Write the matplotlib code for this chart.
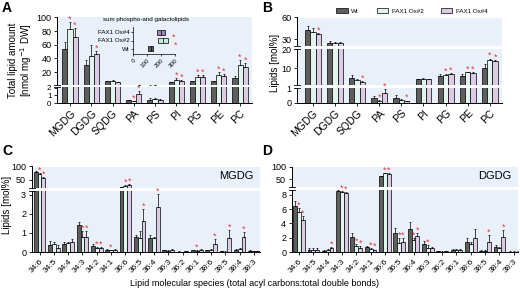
import matplotlib
matplotlib.use("Agg")
import matplotlib.pyplot as plt
from matplotlib.lines import Line2D
from matplotlib.patches import Patch
import numpy as np

plt.rcParams['font.family'] = ['Liberation Sans', 'DejaVu Sans']

# ---- data ----
genotypes = ['Wt', 'FAX1 Ox#2', 'FAX1 Ox#4']

classes = ['MGDG', 'DGDG', 'SQDG', 'PA', 'PS', 'PI', 'PG', 'PE', 'PC']
# panel A: nmol mg-1 DW
a_wt = [54, 30, 6.5, 0.4, 0.45, 5, 6.5, 6.5, 12]
a_wt_err = [10, 8, 1, 0.05, 0.15, 0.8, 1, 1, 2.5]
a_ox2 = [83, 43, 7, 0.2, 0.55, 9, 13, 16, 30]
a_ox2_err = [10, 17, 1, 0.05, 0.1, 3, 3, 4, 8]
a_ox4 = [72, 46, 5.5, 1.2, 0.4, 7, 13, 14, 27]
a_ox4_err = [13, 5, 0.8, 0.4, 0.1, 1.5, 3, 3, 6]
a_sig_ox2 = ['MGDG', 'PA', 'PI', 'PG', 'PE', 'PC']
a_sig_ox4 = ['MGDG', 'DGDG', 'PA', 'PI', 'PG', 'PE', 'PC']

# inset: sum phospho- and galactolipids
inset_min = [106, 175, 168]
inset_max = [141, 247, 228]
inset_med = [124, 212, 196]
inset_sig = [False, True, True]

# panel B: mol%
b_wt = [43, 25, 5, 0.35, 0.35, 4.2, 5.8, 5.8, 10]
b_wt_err = [5, 2.5, 1.5, 0.1, 0.15, 0.4, 1, 1, 2.5]
b_ox2 = [40, 24, 3.8, 0.1, 0.2, 4.5, 6.5, 8, 14.5]
b_ox2_err = [5, 1.5, 0.6, 0.05, 0.05, 0.3, 0.4, 0.3, 0.7]
b_ox4 = [37.5, 25, 2.8, 0.65, 0.12, 4.2, 7.3, 7.5, 14]
b_ox4_err = [1.5, 1, 0.3, 0.3, 0.02, 0.3, 0.4, 0.4, 0.4]
b_sig_ox2 = ['PA', 'PG', 'PE', 'PC']
b_sig_ox4 = ['MGDG', 'SQDG', 'PA', 'PS', 'PG', 'PE', 'PC']

species = ['34:6', '34:5', '34:4', '34:3', '34:2', '34:1', '36:6', '36:5',
           '36:4', '36:3', '36:2', '36:1', '38:6', '38:5', '38:4', '38:3']
# panel C: MGDG species
c_wt = [79, 0.35, 0.4, 1.4, 0.33, 0.12, 22, 0.8, 0.75, 0.08, 0.02, 0.08, 0.08, 0.03, 0.12, 0.06]
c_wt_err = [3, 0.25, 0.1, 0.2, 0.07, 0.05, 1, 0.1, 0.12, 0.03, 0.01, 0.04, 0.04, 0.02, 0.05, 0.03]
c_ox2 = [73, 0.4, 0.45, 0.78, 0.2, 0.08, 28, 0.72, 0.72, 0.06, 0.01, 0.05, 0.1, 0.02, 0.15, 0.03]
c_ox2_err = [2, 0.15, 0.05, 0.3, 0.08, 0.04, 1.5, 0.4, 0.05, 0.03, 0.01, 0.03, 0.05, 0.01, 0.05, 0.02]
c_ox4 = [59, 0.2, 0.52, 0.78, 0.22, 0.1, 33, 1.65, 2.35, 0.1, 0.05, 0.12, 0.4, 0.72, 0.8, 0.05]
c_ox4_err = [3, 0.15, 0.15, 0.3, 0.06, 0.04, 1.5, 0.6, 0.7, 0.04, 0.02, 0.05, 0.3, 0.42, 0.25, 0.02]
c_sig_ox2 = ['34:6', '34:3', '34:2', '34:1', '36:6', '36:1']
c_sig_ox4 = ['34:6', '34:3', '34:2', '36:6', '36:5', '36:4', '38:6', '38:5', '38:4']

# panel D: DGDG species
d_wt = [6.5, 0.3, 0.2, 8.6, 2.1, 0.65, 61, 2.7, 3.2, 1.1, 0.1, 0.3, 1.4, 0.2, 0.7, 0.05]
d_wt_err = [0.7, 0.2, 0.1, 0.15, 0.6, 0.2, 2, 0.7, 1.0, 0.4, 0.05, 0.1, 0.6, 0.1, 0.3, 0.03]
d_ox2 = [5.6, 0.35, 0.3, 8.45, 0.8, 0.4, 73, 1.2, 1.7, 0.5, 0.05, 0.35, 1.1, 0.15, 0.5, 0.05]
d_ox2_err = [0.6, 0.2, 0.1, 0.1, 0.3, 0.15, 1.5, 0.8, 0.3, 0.5, 0.03, 0.1, 0.3, 0.08, 0.2, 0.03]
d_ox4 = [4.5, 0.35, 0.5, 8.3, 0.6, 0.25, 72, 1.45, 2.2, 0.5, 0.15, 0.3, 1.9, 1.45, 2.1, 0.05]
d_ox4_err = [0.5, 0.2, 0.15, 0.1, 0.3, 0.1, 1.5, 0.5, 0.4, 0.2, 0.05, 0.1, 1.3, 0.9, 1.0, 0.03]
d_sig_ox2 = ['34:6', '34:3', '34:2', '34:1', '36:6', '36:5', '36:4', '36:3']
d_sig_ox4 = ['34:6', '34:4', '34:3', '34:2', '34:1', '36:6', '36:5', '36:4', '38:5', '38:4']

# ---- style ----
colors = ['#5e5e5e', '#e2f4ee', '#dccbe5']
inset_colors = ['#5e5e5e', '#c4ecdc', '#a27fbd']
bg = '#eaf0f9'
star_color = '#e5383b'

W, H = 520, 295
fig = plt.figure(figsize=(W / 100, H / 100), dpi=100)


def add_ax(x0, y0, x1, y1):
    return fig.add_axes([x0 / W, 1 - y1 / H, (x1 - x0) / W, (y1 - y0) / H])


def fig_line(x0, y0, x1, y1):
    fig.add_artist(Line2D([x0 / W, x1 / W], [1 - y0 / H, 1 - y1 / H],
                          transform=fig.transFigure, color='black', lw=0.6))


def broken_panel(x0, x1, segs, xlim, cats, vals, errs, sigs, width, tick_fs, cat_fs):
    """segs: (y_top_px, y_bottom_px, ylim, yticks) from top to bottom."""
    x = np.arange(len(cats))
    offs = [-width, 0, width]
    axes = []
    for k, (ya, yb, ylim, yt) in enumerate(segs):
        ax = add_ax(x0, ya, x1, yb)
        ax.set_facecolor(bg)
        for g in range(3):
            ax.bar(x + offs[g], vals[g], width, color=colors[g],
                   edgecolor='black', linewidth=0.5, zorder=2)
            ax.errorbar(x + offs[g], vals[g], yerr=[np.zeros(len(cats)), errs[g]],
                        fmt='none', ecolor='black', elinewidth=0.5, capsize=1.0,
                        capthick=0.5, zorder=3)
        ax.set_xlim(*xlim)
        ax.set_ylim(*ylim)
        ax.set_yticks(yt)
        ax.set_yticklabels([str(t) for t in yt], fontsize=tick_fs)
        ax.tick_params(axis='y', length=2.5, width=0.6, pad=1.5)
        for s in ['top', 'right']:
            ax.spines[s].set_visible(False)
        ax.spines['left'].set_linewidth(0.7)
        if k < len(segs) - 1:
            ax.spines['bottom'].set_visible(False)
            ax.set_xticks([])
        else:
            ax.spines['bottom'].set_linewidth(0.7)
            ax.set_xticks(x)
            ax.set_xticklabels(cats, rotation=45, ha='right', rotation_mode='anchor',
                               fontsize=cat_fs)
            ax.tick_params(axis='x', length=2.5, width=0.6, pad=1.5)
        axes.append(ax)
    # significance stars, placed on the highest segment the error bar reaches
    for g in (1, 2):
        for i, c in enumerate(cats):
            if c not in sigs[g - 1]:
                continue
            top = vals[g][i] + errs[g][i]
            k = len(segs) - 1
            for j in range(len(segs)):
                if top > segs[j][2][0]:
                    k = j
                    break
            axes[k].annotate('*', (x[i] + offs[g], min(top, segs[k][2][1])),
                             xytext=(0, -1.2), textcoords='offset points',
                             ha='center', va='bottom', color=star_color,
                             fontsize=6.5, annotation_clip=False, zorder=5)
    # break marks
    for k in range(len(segs) - 1):
        for yy in (segs[k][1], segs[k + 1][0]):
            fig_line(x0 - 3, yy, x0 + 3, yy)
    return axes


# ---- panel A ----
axA = broken_panel(57, 252,
                   [(17.3, 84.5, (2, 100), [20, 40, 60, 80, 100]),
                    (86.8, 103, (0, 2.1), [0, 1, 2])],
                   (-0.61, 8.56), classes,
                   [a_wt, a_ox2, a_ox4], [a_wt_err, a_ox2_err, a_ox4_err],
                   [a_sig_ox2, a_sig_ox4], 0.24, 6.5, 7.5)
for lbl in axA[1].get_yticklabels():
    lbl.set_fontsize(5.8)
fig.text(21 / W, 1 - 60 / H, 'Total lipid amount\n[nmol mg$^{-1}$ DW]', rotation=90,
         ha='center', va='center', fontsize=7, linespacing=1.1)

# inset
axi = add_ax(133.3, 27, 175, 54)
axi.patch.set_alpha(0)
yi = np.arange(3)
widths = np.array(inset_max) - np.array(inset_min)
axi.barh(yi, widths, left=inset_min, height=0.6, color=inset_colors,
         edgecolor='black', linewidth=0.5)
axi.vlines(inset_med, yi - 0.3, yi + 0.3, color='black', lw=0.5)
for i in range(3):
    if inset_sig[i]:
        axi.annotate('*', (inset_max[i], yi[i]), xytext=(6, -3.5),
                     textcoords='offset points', ha='center', va='center',
                     color=star_color, fontsize=6.5, annotation_clip=False)
axi.set_xlim(0, 300)
axi.set_ylim(-0.6, 2.6)
axi.set_yticks(yi)
axi.set_yticklabels(genotypes, fontsize=4.5)
axi.set_xticks([0, 100, 200, 300])
axi.set_xticklabels(['0', '100', '200', '300'], fontsize=4.5, rotation=45,
                    ha='right', rotation_mode='anchor')
axi.tick_params(length=1.5, width=0.5, pad=1)
for s in ['top', 'right']:
    axi.spines[s].set_visible(False)
for s in ['left', 'bottom']:
    axi.spines[s].set_linewidth(0.5)
fig.text(146 / W, 1 - 20 / H, 'sum phospho-and galactolipids', ha='center',
         va='center', fontsize=4.5)

# ---- panel B ----
axB = broken_panel(297, 502,
                   [(17.5, 45.5, (21, 60), [30, 60]),
                    (48.5, 84.5, (1.5, 20.5), [10, 20]),
                    (87.5, 102.5, (0, 1.05), [0, 1])],
                   (-0.72, 8.55), classes,
                   [b_wt, b_ox2, b_ox4], [b_wt_err, b_ox2_err, b_ox4_err],
                   [b_sig_ox2, b_sig_ox4], 0.24, 6.5, 7.5)
fig.text(275 / W, 1 - 63 / H, 'Lipids [mol%]', rotation=90, ha='center',
         va='center', fontsize=7)
handles = [Patch(facecolor=c, edgecolor='black', linewidth=0.5) for c in colors]
fig.legend(handles, genotypes, loc='center', bbox_to_anchor=(412 / W, 1 - 11 / H),
           ncol=3, frameon=False, fontsize=4.5, handlelength=1.8, handleheight=0.9,
           columnspacing=2.8, handletextpad=0.6)

# ---- panel C ----
axC = broken_panel(31.7, 260,
                   [(166.5, 188, (20, 100), [50, 100]),
                    (191, 252, (0, 3.2), [0, 1, 2, 3])],
                   (-0.55, 15.42), species,
                   [c_wt, c_ox2, c_ox4], [c_wt_err, c_ox2_err, c_ox4_err],
                   [c_sig_ox2, c_sig_ox4], 0.27, 6.5, 6)
axC[0].text(0.97, 0.55, 'MGDG', transform=axC[0].transAxes, ha='right',
            va='center', fontsize=8)
fig.text(7 / W, 1 - 205 / H, 'Lipids [mol%]', rotation=90, ha='center',
         va='center', fontsize=7)

# ---- panel D ----
axD = broken_panel(291.7, 518,
                   [(166.5, 187, (20, 100), [50, 100]),
                    (190, 252, (0, 8.7), [0, 2, 4, 6, 8])],
                   (-0.51, 15.3), species,
                   [d_wt, d_ox2, d_ox4], [d_wt_err, d_ox2_err, d_ox4_err],
                   [d_sig_ox2, d_sig_ox4], 0.27, 6.5, 6)
axD[0].text(0.97, 0.55, 'DGDG', transform=axD[0].transAxes, ha='right',
            va='center', fontsize=8)

fig.text(254 / W, 1 - 283 / H,
         'Lipid molecular species (total acyl carbons:total double bonds)',
         ha='center', va='center', fontsize=6.5)

# panel letters
for lab, (px, py) in zip('ABCD', [(2, 1), (262, 1), (2, 144), (262, 144)]):
    fig.text(px / W, 1 - py / H, lab, ha='left', va='top', fontsize=10,
             fontweight='bold')

fig.savefig('out.png', dpi=100)
